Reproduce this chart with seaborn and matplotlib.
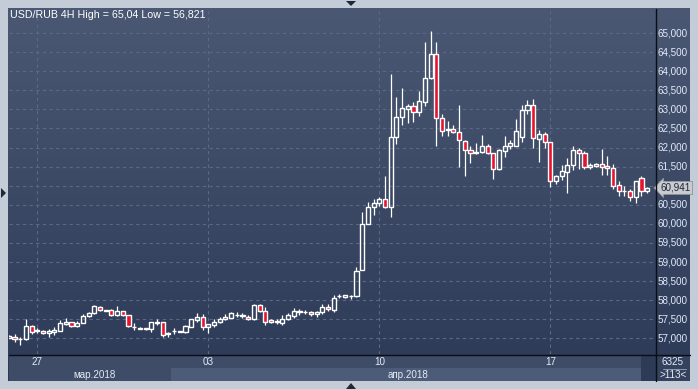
import numpy as np
import pandas as pd
import matplotlib
matplotlib.use("Agg")
import matplotlib.pyplot as plt
import seaborn as sns
from matplotlib.patches import Rectangle, Polygon
from matplotlib.lines import Line2D
from matplotlib.colors import LinearSegmentedColormap
from matplotlib.transforms import blended_transform_factory

# ---------------- data (USD/RUB, 4H candles) ----------------
opens = [57020, 57040, 56975, 56975, 57323, 57190, 57200, 57130, 57160, 57200,
         57385, 57420, 57325, 57395, 57585, 57655, 57830, 57720, 57735, 57600,
         57705, 57610, 57290, 57253, 57265, 57237, 57405, 57420, 57114, 57185,
         57170, 57160, 57305, 57480, 57550, 57287, 57360, 57420, 57500, 57540,
         57600, 57595, 57570, 57500, 57874, 57725, 57480, 57430, 57410, 57500,
         57585, 57695, 57685, 57700, 57630, 57683, 57814, 57743, 58100, 58075,
         58100, 58110, 58790, 59996, 60433, 60538, 60643, 60450, 62267, 62807,
         63000, 63087, 62938, 63200, 63813, 64450, 62765, 62465, 62485, 62415,
         62170, 61927, 61850, 61890, 62030, 61848, 61430, 61920, 62030, 62047,
         62283, 62970, 63114, 62230, 62345, 62135, 61130, 61250, 61367, 61542,
         61935, 61848, 61497, 61515, 61570, 61515, 61455, 61020, 60850, 60860,
         60695, 61210, 60860]
highs = [57080, 57105, 57040, 57499, 57350, 57260, 57230, 57240, 57290, 57480,
         57530, 57440, 57460, 57650, 57680, 57870, 57860, 57745, 57760, 57845,
         57725, 57620, 57410, 57290, 57275, 57430, 57500, 57430, 57175, 57260,
         57200, 57350, 57510, 57655, 57640, 57380, 57510, 57560, 57630, 57700,
         57680, 57660, 57610, 57900, 57900, 57810, 57520, 57500, 57620, 57660,
         57800, 57780, 57740, 57720, 57720, 57900, 57900, 58130, 58160, 58140,
         58140, 58860, 60318, 60580, 60650, 60700, 61260, 63926, 63315, 63551,
         63150, 63190, 63480, 64772, 65040, 64772, 62870, 62700, 62600, 63113,
         62200, 62040, 62110, 62330, 62100, 61860, 61960, 62310, 62200, 62740,
         63110, 63240, 63270, 62460, 62400, 62150, 61280, 61540, 61725, 62040,
         61990, 61920, 61600, 61600, 61960, 61790, 61560, 61120, 60990, 60900,
         61130, 61250, 60960]
lows = [57000, 56910, 56821, 56960, 57113, 57150, 57110, 57040, 57090, 57190,
        57350, 57290, 57290, 57390, 57550, 57630, 57715, 57715, 57585, 57585,
        57585, 57290, 57210, 57245, 57225, 57165, 57340, 57045, 57025, 57125,
        57160, 57150, 57300, 57440, 57210, 57150, 57290, 57400, 57480, 57530,
        57560, 57540, 57480, 57480, 57680, 57340, 57400, 57370, 57340, 57480,
        57530, 57610, 57650, 57585, 57560, 57650, 57720, 57700, 58050, 58070,
        58040, 58080, 58780, 59990, 60230, 60460, 60407, 60187, 62092, 62590,
        62650, 62670, 62820, 63090, 63800, 62040, 62290, 62300, 62380, 61497,
        61260, 61586, 61840, 61860, 61820, 61183, 61420, 61745, 61960, 62030,
        62150, 62890, 61990, 61630, 62000, 60973, 61040, 61150, 60816, 61410,
        61450, 61450, 61440, 61480, 61280, 61280, 60900, 60740, 60730, 60600,
        60555, 60730, 60800]
closes = [57050, 56975, 56985, 57323, 57174, 57210, 57140, 57190, 57230, 57394,
          57420, 57315, 57410, 57593, 57655, 57847, 57735, 57740, 57604, 57715,
          57600, 57316, 57300, 57280, 57237, 57430, 57420, 57080, 57150, 57200,
          57185, 57323, 57499, 57550, 57287, 57366, 57436, 57510, 57570, 57655,
          57620, 57605, 57510, 57874, 57725, 57420, 57430, 57440, 57500, 57610,
          57716, 57705, 57695, 57630, 57690, 57814, 57760, 58050, 58115, 58135,
          58120, 58773, 59996, 60433, 60538, 60643, 60450, 62267, 62807, 63027,
          63087, 62938, 63218, 63813, 64450, 62765, 62440, 62490, 62415, 62197,
          61935, 61850, 61890, 62030, 61848, 61430, 61935, 62040, 62110, 62433,
          62983, 63114, 62240, 62353, 62135, 61130, 61253, 61384, 61542, 61935,
          61848, 61497, 61540, 61570, 61500, 61455, 60990, 60860, 60870, 60695,
          61122, 60860, 60941]

price_ticks = list(range(57000, 65001, 500))
date_ticks = [5, 35, 65, 95]
date_labels = ["27", "03", "10", "17"]
month_pos = [15, 70]
month_labels = ["мар.2018", "апр.2018"]
title = "USD/RUB 4H High = 65,04 Low = 56,821"
last_price = 60941
bars_info = ["6325", ">113<"]

# ---------------- style ----------------
sns.set_theme(style="dark")
plt.rcParams['font.family'] = ['Liberation Sans', 'DejaVu Sans']
FS = 7.1

W, H = 698, 389
fig = plt.figure(figsize=(W / 100, H / 100), dpi=100, facecolor='#c4ccd8')


def fx(px):
    return px / W


def fy(py):
    return 1 - py / H


# panel background (gradient)
panel = fig.add_axes([fx(8), fy(381), fx(682), 373 / H])
grad = np.linspace(0, 1, 256).reshape(-1, 1)
cmap = LinearSegmentedColormap.from_list('bg', ['#4a5873', '#2c3a57'])
panel.imshow(grad, aspect='auto', cmap=cmap, extent=[0, 1, 0, 1], origin='upper')
panel.set_axis_off()

# main axes
ax = fig.add_axes([fx(9), fy(354), fx(646), 345 / H])
ax.patch.set_alpha(0)
for s in ax.spines.values():
    s.set_visible(False)
ax.set_xticks([])
ax.set_yticks([])
ax.grid(False)

df = pd.DataFrame({'o': opens, 'h': highs, 'l': lows, 'c': closes})
df['i'] = np.arange(len(df))
df['top'] = df[['o', 'c']].max(axis=1)
df['bot'] = df[['o', 'c']].min(axis=1)
df['hgt'] = (df['top'] - df['bot']).clip(lower=12)
up = df['c'] >= df['o']

ax.set_xlim(0.035, 113.37)
ax.set_ylim(56590, 65629)

grid_col = '#5a6985'
ax.hlines(price_ticks, 0.035, 113.37, colors=grid_col, lw=0.8, linestyles=(0, (3, 3)), zorder=1)
ax.vlines(date_ticks, 56590, 65629, colors=grid_col, lw=0.8, linestyles=(0, (3, 3)), zorder=1)

ax.vlines(df['i'], df['top'], df['h'], colors='white', lw=0.9, zorder=2)
ax.vlines(df['i'], df['l'], df['bot'], colors='white', lw=0.9, zorder=2)
ax.bar(df['i'][up], df['hgt'][up], bottom=df['bot'][up], width=0.72,
       facecolor='none', edgecolor='white', lw=1.0, zorder=3)
ax.bar(df['i'][~up], df['hgt'][~up], bottom=df['bot'][~up], width=0.72,
       facecolor='#e5132f', edgecolor='white', lw=1.0, zorder=3)

# price labels
ytr = ax.get_yaxis_transform()
for p in price_ticks:
    ax.text(1.004, p, f"{p:,}", transform=ytr, ha='left', va='center',
            fontsize=FS, color='#e2eafa', clip_on=False)
ax.text(1.009, last_price, f"{last_price:,}", transform=ytr, ha='left', va='center',
        fontsize=FS, color='#1c2639', clip_on=False, zorder=6,
        bbox=dict(boxstyle='larrow,pad=0.15', fc='#c9cbcf', ec='#8e939c', lw=0.6))

# date axis area
fig.add_artist(Rectangle((fx(9), fy(381)), fx(646), 26 / H, transform=fig.transFigure,
                         fc='#3e4c68', ec='none', zorder=0.5))
btr = blended_transform_factory(ax.transData, fig.transFigure)
fig.add_artist(Rectangle((28.5, fy(381)), 110.9 - 28.5, 13 / H, transform=btr,
                         fc='#4c5b77', ec='none', zorder=0.6))
fig.add_artist(Rectangle((110.9, fy(381)), 113.37 - 110.9, 26 / H, transform=btr,
                         fc='#2e3b56', ec='none', zorder=0.6))
fig.add_artist(Rectangle((fx(656), fy(381)), fx(34), 26 / H, transform=fig.transFigure,
                         fc='#34425e', ec='none', zorder=0.5))

for t, lab in zip(date_ticks, date_labels):
    fig.text(t, fy(362), lab, transform=btr, ha='center', va='center',
             fontsize=FS, color='#e6ecf7', zorder=5)
for t, lab in zip(month_pos, month_labels):
    fig.text(t, fy(374.5), lab, transform=btr, ha='center', va='center',
             fontsize=FS, color='#e6ecf7', zorder=5)

fig.text(fx(673), fy(362), bars_info[0], ha='center', va='center', fontsize=FS, color='#e6ecf7')
fig.text(fx(673), fy(375), bars_info[1], ha='center', va='center', fontsize=FS, color='#e6ecf7')
fig.add_artist(Line2D([fx(663), fx(686)], [fy(368.5), fy(368.5)], color='#8d9ab0', lw=0.7))

# separator lines
fig.add_artist(Line2D([fx(655.5), fx(655.5)], [fy(9), fy(381)], color='#0a0e16', lw=1.0, zorder=4))
fig.add_artist(Line2D([fx(9), fx(690)], [fy(354.5), fy(354.5)], color='#0a0e16', lw=1.0, zorder=4))

# title
fig.text(fx(10), fy(15.5), title, ha='left', va='center', fontsize=7.7, color='white')

# navigation triangles
tri = '#1d2838'
fig.add_artist(Polygon([[fx(346), fy(1)], [fx(356), fy(1)], [fx(351), fy(6)]],
                       closed=True, transform=fig.transFigure, fc=tri, ec='none'))
fig.add_artist(Polygon([[fx(346), fy(389)], [fx(356), fy(389)], [fx(351), fy(383)]],
                       closed=True, transform=fig.transFigure, fc=tri, ec='none'))
fig.add_artist(Polygon([[fx(1), fy(188)], [fx(1), fy(198)], [fx(6), fy(193)]],
                       closed=True, transform=fig.transFigure, fc=tri, ec='none'))

fig.savefig('out.png', dpi=100, facecolor=fig.get_facecolor())
